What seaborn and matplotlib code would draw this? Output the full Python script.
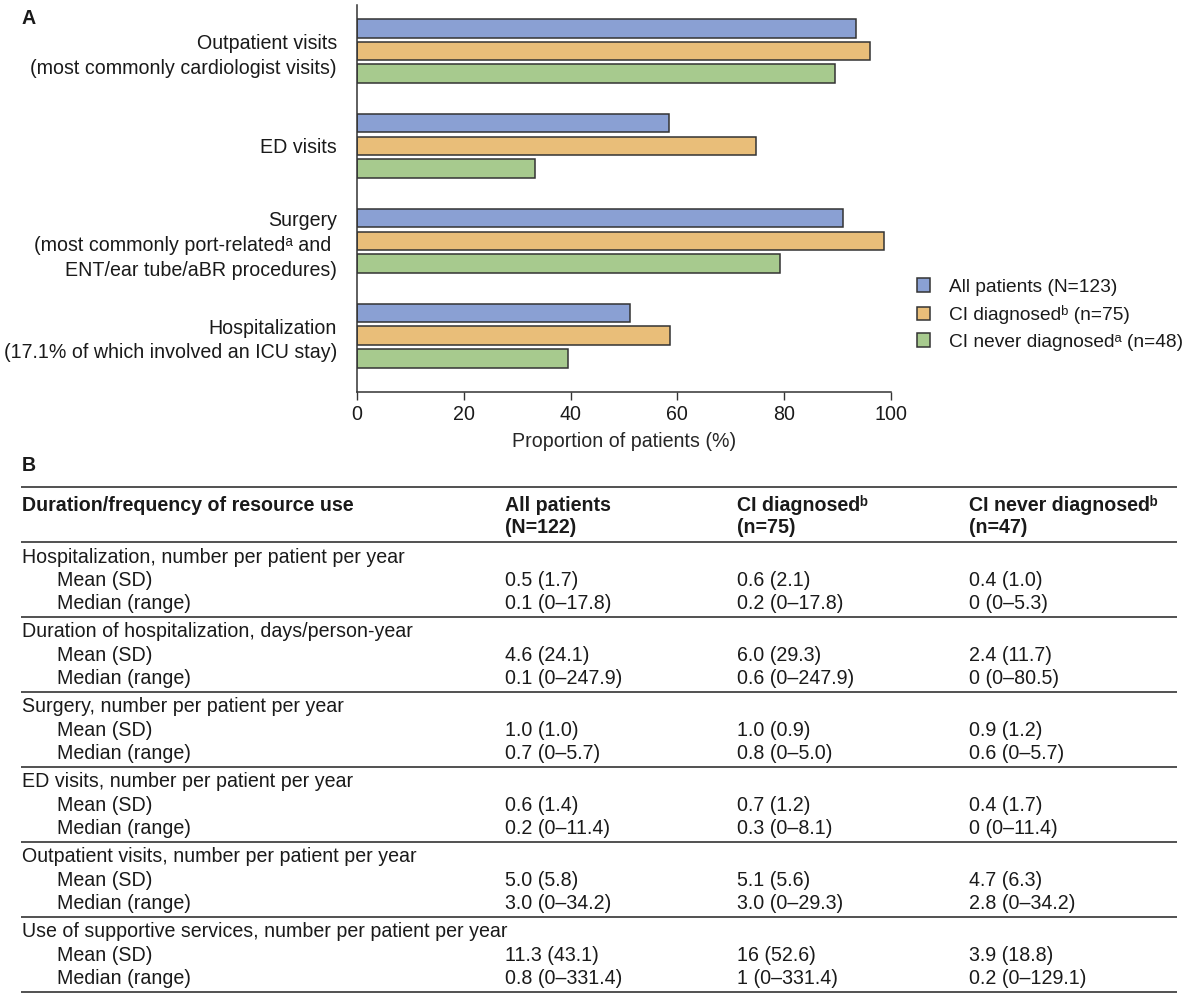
import numpy as np
import pandas as pd
import matplotlib
matplotlib.use('Agg')
import matplotlib.pyplot as plt
import seaborn as sns

# ---- panel A data ----
categories = [
    'Outpatient visits\n(most commonly cardiologist visits)',
    'ED visits',
    'Surgery\n(most commonly port-relatedᵃ and \nENT/ear tube/aBR procedures)',
    'Hospitalization\n(17.1% of which involved an ICU stay)',
]
series_names = ['All patients (N=123)', 'CI diagnosedᵇ (n=75)', 'CI never diagnosedᵃ (n=48)']
all_patients = [93.5, 58.5, 91.1, 51.2]
ci_diagnosed = [96.0, 74.7, 98.7, 58.7]
ci_never = [89.6, 33.3, 79.2, 39.6]
bar_colors = ['#8aa0d3', '#e9be79', '#a7ca8e']
x_ticks = [0, 20, 40, 60, 80, 100]

# ---- panel B data ----
col_headers = ['All patients\n(N=122)', 'CI diagnosedᵇ\n(n=75)', 'CI never diagnosedᵇ\n(n=47)']
sections = [
    'Hospitalization, number per patient per year',
    'Duration of hospitalization, days/person-year',
    'Surgery, number per patient per year',
    'ED visits, number per patient per year',
    'Outpatient visits, number per patient per year',
    'Use of supportive services, number per patient per year',
]
stat_labels = ['Mean (SD)', 'Median (range)']
all_vals = [('0.5 (1.7)', '0.1 (0–17.8)'), ('4.6 (24.1)', '0.1 (0–247.9)'),
            ('1.0 (1.0)', '0.7 (0–5.7)'), ('0.6 (1.4)', '0.2 (0–11.4)'),
            ('5.0 (5.8)', '3.0 (0–34.2)'), ('11.3 (43.1)', '0.8 (0–331.4)')]
diag_vals = [('0.6 (2.1)', '0.2 (0–17.8)'), ('6.0 (29.3)', '0.6 (0–247.9)'),
             ('1.0 (0.9)', '0.8 (0–5.0)'), ('0.7 (1.2)', '0.3 (0–8.1)'),
             ('5.1 (5.6)', '3.0 (0–29.3)'), ('16 (52.6)', '1 (0–331.4)')]
never_vals = [('0.4 (1.0)', '0 (0–5.3)'), ('2.4 (11.7)', '0 (0–80.5)'),
              ('0.9 (1.2)', '0.6 (0–5.7)'), ('0.4 (1.7)', '0 (0–11.4)'),
              ('4.7 (6.3)', '2.8 (0–34.2)'), ('3.9 (18.8)', '0.2 (0–129.1)')]

sns.set_style('white')
plt.rcParams['font.family'] = ['Liberation Sans', 'DejaVu Sans']
plt.rcParams['text.color'] = '#1a1a1a'

W, H = 1186, 996
fig = plt.figure(figsize=(W / 100, H / 100), dpi=100)
FS = 14.1


def fx(px):
    return px / W


def fy(py):
    return 1 - py / H


# ---- panel A ----
ax = fig.add_axes([fx(357), fy(392), (891 - 357) / W, (392 - 5) / H])

df = pd.DataFrame({
    'category': categories * 3,
    'group': np.repeat(series_names, len(categories)),
    'value': all_patients + ci_diagnosed + ci_never,
})
sns.barplot(data=df, y='category', x='value', hue='group', hue_order=series_names,
            order=categories, palette=bar_colors, orient='h', width=0.717, gap=0.184,
            saturation=1, edgecolor='#333333', linewidth=1.1, ax=ax)

ax.set_xlim(0, 100)
ax.set_ylim(3.593, -0.485)
ax.set_xticks(x_ticks)
ax.tick_params(axis='x', length=6, width=1, color='#333333', labelsize=FS,
               pad=3, bottom=True, labelcolor='#1a1a1a')
ax.tick_params(axis='y', length=0, pad=14.5, labelsize=FS, labelcolor='#1a1a1a')
for lab in ax.get_yticklabels():
    lab.set_linespacing(1.38)
ax.set_ylabel('')
ax.set_xlabel('Proportion of patients (%)', fontsize=FS, labelpad=6)
sns.despine(ax=ax)
for s in ['left', 'bottom']:
    ax.spines[s].set_color('#333333')
    ax.spines[s].set_linewidth(1.1)

sns.move_legend(ax, 'upper left', bbox_to_anchor=(fx(917), fy(278.5)),
                bbox_transform=fig.transFigure, frameon=False, title=None,
                fontsize=13.75, handlelength=0.68, handleheight=0.68,
                handletextpad=0.98, labelspacing=0.49, borderpad=0, borderaxespad=0)

fig.text(fx(22), fy(18), 'A', fontweight='bold', fontsize=FS, va='center')

# ---- panel B (table) ----
tab = fig.add_axes([0, 0, 1, 1], zorder=-1)
tab.set_xlim(0, W)
tab.set_ylim(H, 0)
tab.axis('off')

tab.text(22, 465, 'B', fontweight='bold', fontsize=FS, va='center')
col_x = [505, 737, 969]
tab.text(22, 505, 'Duration/frequency of resource use', fontweight='bold', fontsize=FS, va='center')
for x, head in zip(col_x, col_headers):
    l1, l2 = head.split('\n')
    tab.text(x, 505, l1, fontweight='bold', fontsize=FS, va='center')
    tab.text(x, 527, l2, fontweight='bold', fontsize=FS, va='center')

rules = [487, 542]
base = 542.5
step = 74.9
for i, sec in enumerate(sections):
    y0 = base + step * i
    tab.text(22, y0 + 14.5, sec, fontsize=FS, va='center')
    for j, st in enumerate(stat_labels):
        yy = y0 + 38 + 23.3 * j
        tab.text(57, yy, st, fontsize=FS, va='center')
        for x, vals in zip(col_x, [all_vals, diag_vals, never_vals]):
            tab.text(x, yy, vals[i][j], fontsize=FS, va='center')
    rules.append(y0 + step)
tab.hlines(rules, 21, 1177, color='#333333', lw=1.2)

fig.savefig('out.png', dpi=100)
